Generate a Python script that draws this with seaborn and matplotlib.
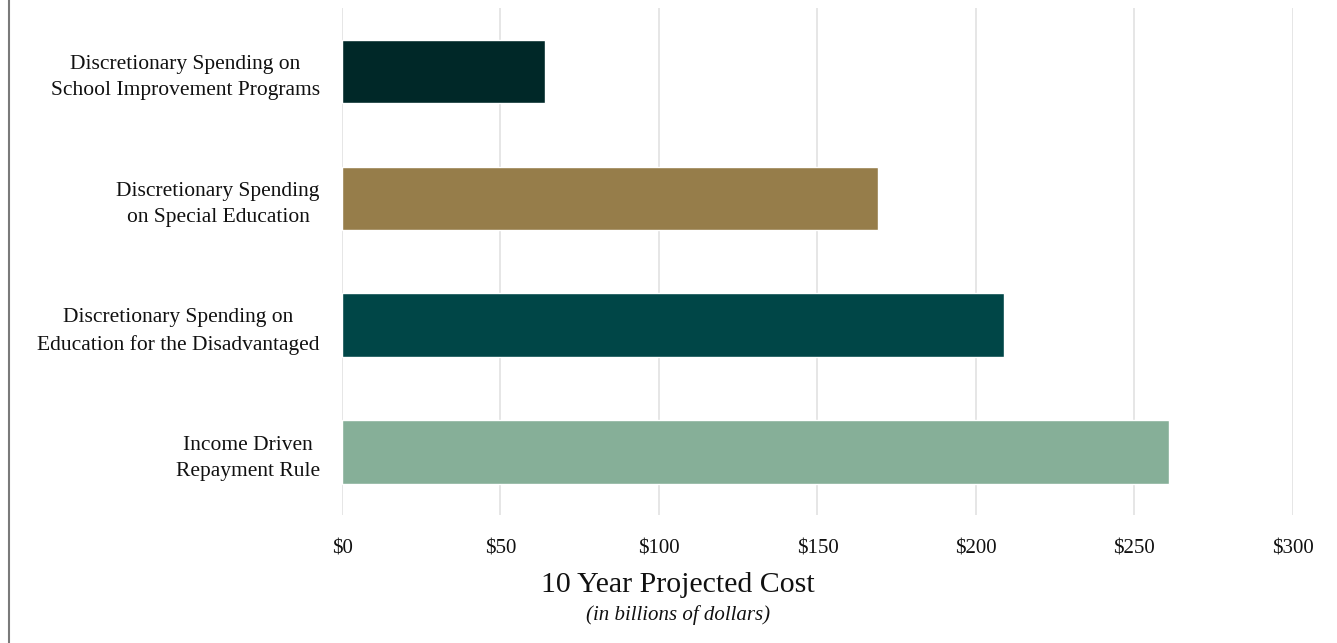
import pandas as pd
import matplotlib.pyplot as plt
import seaborn as sns

categories = ["Discretionary Spending on\nSchool Improvement Programs",
              "Discretionary Spending\non Special Education",
              "Discretionary Spending on\nEducation for the Disadvantaged",
              "Income Driven\nRepayment Rule"]
costs = [64, 169, 209, 261]
colors = ["#002828", "#967D4A", "#004647", "#86AF98"]
xticks = [0, 50, 100, 150, 200, 250, 300]

df = pd.DataFrame({"category": categories, "cost": costs})

sns.set_style("white")
plt.rcParams['font.family'] = ['Liberation Serif', 'DejaVu Serif']
plt.rcParams['text.color'] = '#111111'
plt.rcParams['xtick.color'] = '#111111'
plt.rcParams['ytick.color'] = '#111111'

fig = plt.figure(figsize=(13.37, 6.43), dpi=100)
ax = fig.add_axes([0.2558, 0.1983, 0.967 - 0.2558, 0.9876 - 0.1983])

sns.barplot(data=df, y="category", x="cost", hue="category", palette=colors,
            orient="h", width=0.5, saturation=1, legend=False, ax=ax, zorder=3)

ax.set_xlim(0, 300)
ax.set_ylim(3.5, -0.5)
ax.set_xticks(xticks)
ax.set_xticklabels(["$%d" % v for v in xticks], fontsize=15)
ax.grid(axis="x", color="#E2E2E2", linewidth=1.2, zorder=0)
ax.grid(axis="y", visible=False)
for s in ax.spines.values():
    s.set_visible(False)
ax.tick_params(axis="both", length=0)
ax.tick_params(axis="x", pad=17)
ax.tick_params(axis="y", pad=16)
for lab in ax.get_yticklabels():
    lab.set_fontsize(15.5)
    lab.set_multialignment("center")
    lab.set_linespacing(1.5)
ax.set_xlabel("")
ax.set_ylabel("")

fig.text(0.507, 0.090, "10 Year Projected Cost", ha="center", va="center", fontsize=21.5)
fig.text(0.507, 0.043, "(in billions of dollars)", ha="center", va="center",
         fontsize=15, style="italic")

# thin border at left edge
fig.add_artist(plt.Line2D([0.0065, 0.0065], [0, 1], color="#7A7A7A", linewidth=1.5,
                          transform=fig.transFigure))

fig.savefig("out.png", dpi=100)
